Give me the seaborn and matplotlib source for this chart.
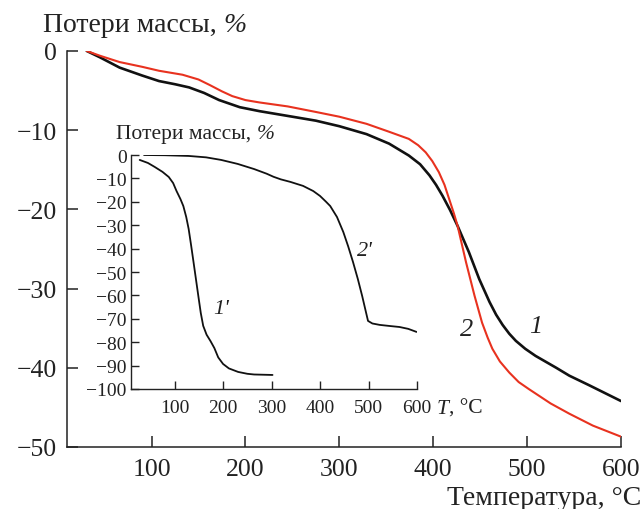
import matplotlib
matplotlib.use("Agg")
import matplotlib.pyplot as plt
import seaborn as sns

# main TGA curves (temperature, mass loss %)
t_1 = [31, 45, 66, 90, 108, 125, 140, 156, 172, 194, 215, 245, 275, 300, 329, 353, 374, 386, 396, 403, 410, 418, 426, 438, 449, 460, 467, 474, 481, 488, 498, 509, 531, 545, 566, 583, 600]
loss_1 = [0, -0.8, -2.1, -3.1, -3.8, -4.2, -4.6, -5.3, -6.2, -7.1, -7.6, -8.2, -8.8, -9.5, -10.5, -11.7, -13.2, -14.3, -15.7, -16.9, -18.3, -20.1, -22.1, -25.4, -28.8, -31.7, -33.3, -34.6, -35.7, -36.6, -37.6, -38.5, -40.0, -41.0, -42.2, -43.2, -44.2]
t_2 = [31, 45, 66, 90, 108, 133, 150, 162, 175, 186, 200, 215, 245, 275, 300, 329, 353, 374, 384, 392, 399, 406, 412, 417, 422, 426, 435, 444, 452, 458, 463, 471, 481, 491, 502, 525, 545, 570, 585, 600]
loss_2 = [0, -0.6, -1.4, -2.0, -2.5, -3.0, -3.6, -4.3, -5.1, -5.7, -6.2, -6.5, -7.0, -7.7, -8.3, -9.2, -10.2, -11.1, -11.9, -12.8, -13.9, -15.3, -16.9, -18.7, -20.5, -22.1, -26.7, -30.9, -34.3, -36.2, -37.6, -39.2, -40.6, -41.8, -42.7, -44.5, -45.8, -47.3, -48.0, -48.7]

# inset curves
t_1p = [28, 45, 59, 75, 88, 97, 104, 112, 118, 124, 129, 134, 139, 144, 149, 154, 159, 166, 174, 182, 190, 200, 212, 231, 250, 264, 302]
loss_1p = [-2.1, -3.4, -5.1, -7.2, -9.4, -12.0, -15.4, -18.8, -21.8, -26.5, -31.6, -38.5, -45.7, -53.0, -60.3, -67.5, -73.0, -76.8, -79.5, -82.5, -86.5, -89.3, -91.2, -92.7, -93.5, -93.8, -94.0]
t_2p = [37, 80, 129, 165, 196, 230, 264, 290, 304, 319, 339, 365, 386, 400, 412, 421, 435, 448, 458, 468, 478, 487, 494, 499, 508, 523, 545, 564, 582, 599]
loss_2p = [0, -0.1, -0.4, -1.0, -2.1, -3.8, -6.0, -8.0, -9.3, -10.4, -11.5, -13.2, -15.4, -17.5, -19.9, -21.8, -26.5, -32.9, -39.0, -45.7, -53.0, -60.3, -66.5, -70.9, -72.0, -72.6, -73.1, -73.5, -74.3, -75.6]

x_ticks = [100, 200, 300, 400, 500, 600]
y_ticks_main = [-50, -40, -30, -20, -10, 0]
y_ticks_inset = list(range(-100, 1, 10))

RED = "#e8321f"
BLACK = "#111111"
INK = "#222222"

sns.set_theme(style="ticks")
plt.rcParams["font.family"] = ["Liberation Serif", "DejaVu Serif"]
plt.rcParams["axes.unicode_minus"] = True

fig = plt.figure(figsize=(6.42, 5.10), dpi=100)
ax = fig.add_axes([0.1044, 0.1216, 0.8629, 0.7765])

sns.lineplot(x=t_1, y=loss_1, ax=ax, color=BLACK, lw=1.9, sort=False)
sns.lineplot(x=t_2, y=loss_2, ax=ax, color=RED, lw=1.5, sort=False)

ax.set_xlim(10, 600)
ax.set_ylim(-50, 0)
ax.set_xticks(x_ticks)
ax.set_yticks(y_ticks_main)
ax.tick_params(direction="in", length=8, width=1.1, labelsize=18.5, colors=INK)
ax.tick_params(axis="x", pad=8)
ax.tick_params(axis="y", pad=7)
for side in ("top", "right"):
    ax.spines[side].set_visible(False)
for side in ("left", "bottom"):
    ax.spines[side].set_linewidth(1.1)
    ax.spines[side].set_color(INK)
ax.set_xlabel("")
ax.set_ylabel("")

ax.text(509, -34.7, "1", style="italic", fontsize=19, ha="center", va="center", color=INK)
ax.text(436, -35.1, "2", style="italic", fontsize=19, ha="center", va="center", color=INK)

lab = fig.text(43 / 642, 1 - 25 / 510, "Потери массы, ", fontsize=20, va="center", ha="left", color=INK)
ax.annotate("%", xy=(1, 0), xycoords=lab, va="bottom", ha="left", fontsize=20, style="italic", color=INK)
fig.text(641 / 642, 1 - 499 / 510, "Температура, °C", fontsize=20, va="center", ha="right", color=INK)

# inset
ins = fig.add_axes([0.204, 0.2353, 0.4455, 0.4588])
ins.patch.set_alpha(0)
sns.lineplot(x=t_1p, y=loss_1p, ax=ins, color=BLACK, lw=1.3, sort=False)
sns.lineplot(x=t_2p, y=loss_2p, ax=ins, color=BLACK, lw=1.3, sort=False)
ins.set_xlim(10, 600)
ins.set_ylim(-100, 0)
ins.set_xticks(x_ticks)
ins.set_yticks(y_ticks_inset)
ins.tick_params(direction="in", length=6, width=1.0, labelsize=14, colors=INK)
ins.tick_params(axis="x", pad=7)
ins.tick_params(axis="y", pad=3)
for side in ("top", "right"):
    ins.spines[side].set_visible(False)
for side in ("left", "bottom"):
    ins.spines[side].set_linewidth(1.0)
    ins.spines[side].set_color(INK)
ins.set_xlabel("")
ins.set_ylabel("")

ins.text(196, -65.8, "1'", style="italic", fontsize=16, ha="center", va="center", color=INK)
ins.text(493, -41, "2'", style="italic", fontsize=16, ha="center", va="center", color=INK)

ilab = fig.text(116 / 642, 1 - 135 / 510, "Потери массы, ", fontsize=15.5, va="center", ha="left", color=INK)
ax.annotate("%", xy=(1, 0), xycoords=ilab, va="bottom", ha="left", fontsize=15.5, style="italic", color=INK)
tlab = fig.text(437 / 642, 1 - 409 / 510, "T", fontsize=15.5, style="italic", va="center", ha="left", color=INK)
ax.annotate(", °C", xy=(1, 0), xycoords=tlab, va="bottom", ha="left", fontsize=15.5, color=INK)

fig.savefig("out.png", dpi=100)
